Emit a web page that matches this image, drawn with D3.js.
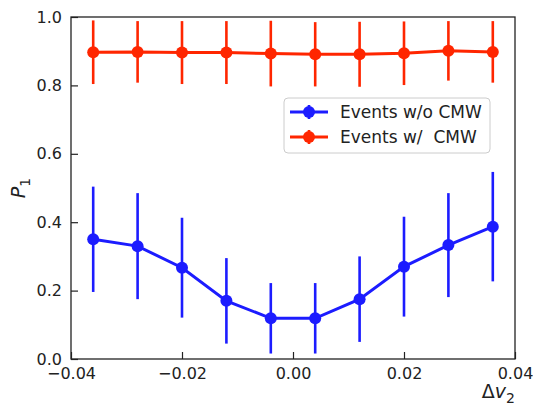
<!DOCTYPE html>
<html>
<head>
<meta charset="utf-8">
<script src="https://cdn.jsdelivr.net/npm/d3@7"></script>
<style>
  html, body { margin: 0; padding: 0; background: #fff; }
  svg { display: block; font-family: 'DejaVu Sans', sans-serif; }
</style>
</head>
<body>
<div id="chart"></div>
<script>
// data
const dv2 = [-0.036, -0.028, -0.020, -0.012, -0.004, 0.004, 0.012, 0.020, 0.028, 0.036];
const noCmw = [0.350, 0.330, 0.267, 0.170, 0.119, 0.119, 0.175, 0.270, 0.333, 0.387];
const noCmwErr = [0.154, 0.155, 0.146, 0.125, 0.103, 0.103, 0.125, 0.146, 0.152, 0.160];
const withCmw = [0.897, 0.898, 0.896, 0.896, 0.893, 0.891, 0.891, 0.894, 0.901, 0.898];
const withCmwErr = [0.093, 0.090, 0.092, 0.092, 0.096, 0.094, 0.095, 0.093, 0.087, 0.090];
const xTicks = [-0.04, -0.02, 0.00, 0.02, 0.04];
const yTicks = [0.0, 0.2, 0.4, 0.6, 0.8, 1.0];
const seriesNames = ['Events w/o CMW', 'Events w/  CMW'];

const W = 533, H = 406;
const M = { top: 17, right: 18, bottom: 47, left: 71 };
const BLUE = '#1c1cff', RED = '#ff2600';

const svg = d3.select('#chart').append('svg')
  .attr('width', W).attr('height', H);

const x = d3.scaleLinear().domain([-0.04, 0.04]).range([M.left, W - M.right]);
const y = d3.scaleLinear().domain([0, 1]).range([H - M.bottom, M.top]);

const series = [
  { name: seriesNames[0], vals: noCmw, errs: noCmwErr, color: BLUE },
  { name: seriesNames[1], vals: withCmw, errs: withCmwErr, color: RED }
];

// series: error bars, line, markers
series.forEach(s => {
  const g = svg.append('g');
  g.selectAll('line.err')
    .data(dv2)
    .join('line')
    .attr('class', 'err')
    .attr('x1', d => x(d)).attr('x2', d => x(d))
    .attr('y1', (d, i) => y(s.vals[i] + s.errs[i]))
    .attr('y2', (d, i) => y(s.vals[i] - s.errs[i]))
    .attr('stroke', s.color)
    .attr('stroke-width', 2.6);

  const line = d3.line().x((d, i) => x(dv2[i])).y(d => y(d));
  g.append('path')
    .attr('d', line(s.vals))
    .attr('fill', 'none')
    .attr('stroke', s.color)
    .attr('stroke-width', 3);

  g.selectAll('circle')
    .data(s.vals)
    .join('circle')
    .attr('cx', (d, i) => x(dv2[i]))
    .attr('cy', d => y(d))
    .attr('r', 6)
    .attr('fill', s.color);
});

// axes, ticks inward
const xAxis = svg.append('g')
  .attr('transform', `translate(0,${H - M.bottom})`)
  .call(d3.axisBottom(x).tickValues(xTicks).tickSizeInner(-7).tickSizeOuter(0)
    .tickPadding(9).tickFormat(d => d3.format('.2f')(d).replace('-', '\u2212')));
const yAxis = svg.append('g')
  .attr('transform', `translate(${M.left},0)`)
  .call(d3.axisLeft(y).tickValues(yTicks).tickSizeInner(-7).tickSizeOuter(0)
    .tickPadding(9).tickFormat(d3.format('.1f')));

[xAxis, yAxis].forEach(a => {
  a.select('.domain').remove();
  a.selectAll('.tick line').attr('stroke', '#222').attr('stroke-width', 1.2);
  a.selectAll('text')
    .attr('fill', '#222')
    .style('font-size', '16px')
    .style('font-family', 'DejaVu Sans, sans-serif');
});

// frame
svg.append('rect')
  .attr('x', M.left).attr('y', M.top)
  .attr('width', W - M.left - M.right)
  .attr('height', H - M.top - M.bottom)
  .attr('fill', 'none')
  .attr('stroke', '#222')
  .attr('stroke-width', 1.3);

// axis labels
const yl = svg.append('text')
  .attr('transform', `translate(25,${(M.top + H - M.bottom) / 2}) rotate(-90)`)
  .attr('text-anchor', 'middle')
  .attr('fill', '#222')
  .style('font-size', '19px');
yl.append('tspan').style('font-style', 'italic').text('P');
yl.append('tspan').attr('dy', 5).style('font-size', '14px').text('1');

const xl = svg.append('text')
  .attr('x', W - M.right)
  .attr('y', H - 8)
  .attr('text-anchor', 'end')
  .attr('fill', '#222')
  .style('font-size', '19px');
xl.append('tspan').text('Δ');
xl.append('tspan').style('font-style', 'italic').text('v');
xl.append('tspan').attr('dy', 5).style('font-size', '14px').text('2');

// legend
const lg = svg.append('g').attr('transform', 'translate(284,98)');
lg.append('rect')
  .attr('width', 206).attr('height', 55)
  .attr('rx', 4)
  .attr('fill', '#fff').attr('fill-opacity', 0.85)
  .attr('stroke', '#ccc');
series.forEach((s, i) => {
  const row = lg.append('g').attr('transform', `translate(0,${14 + i * 25})`);
  row.append('line')
    .attr('x1', 6).attr('x2', 44)
    .attr('stroke', s.color).attr('stroke-width', 3);
  row.append('line')
    .attr('x1', 25).attr('x2', 25).attr('y1', -7).attr('y2', 7)
    .attr('stroke', s.color).attr('stroke-width', 2.6);
  row.append('circle').attr('cx', 25).attr('r', 6).attr('fill', s.color);
  row.append('text')
    .attr('x', 56).attr('dy', '0.35em')
    .attr('fill', '#222')
    .style('font-size', '17px')
    .style('white-space', 'pre')
    .text(s.name);
});
</script>
</body>
</html>
